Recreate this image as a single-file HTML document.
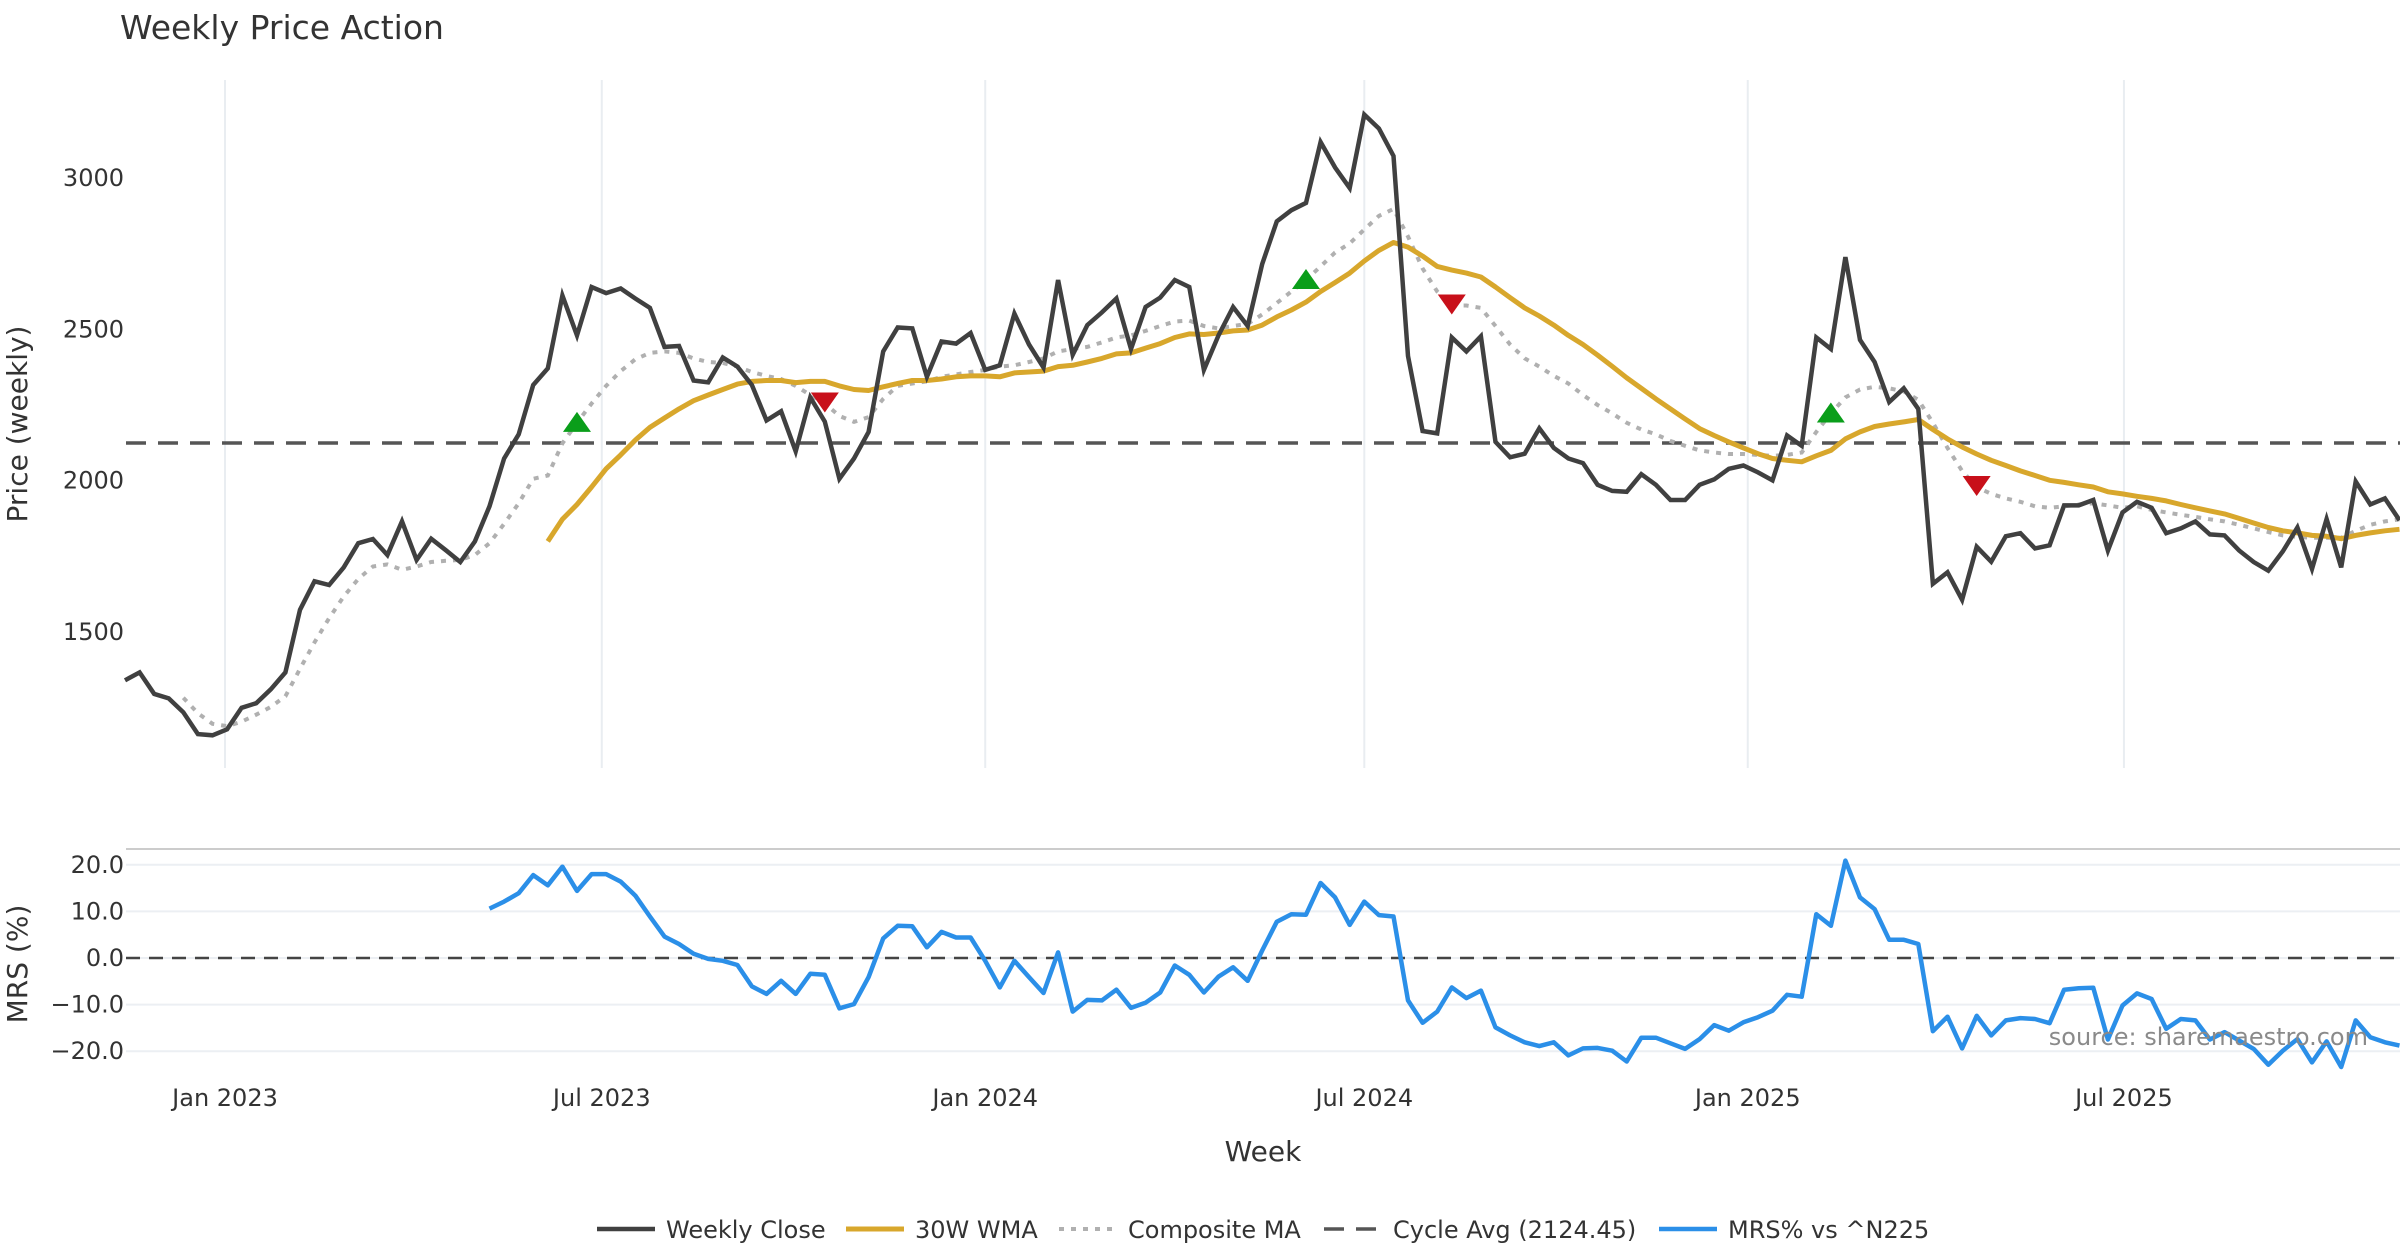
<!DOCTYPE html>
<html><head><meta charset="utf-8"><style>
html,body{margin:0;padding:0;background:#fff;}
svg{display:block;font-family:"DejaVu Sans","Liberation Sans",sans-serif;}
</style></head><body>
<svg id="chart" width="2400" height="1260" viewBox="0 0 2400 1260" xmlns="http://www.w3.org/2000/svg">
<text x="120" y="39" font-size="33" fill="#333">Weekly Price Action</text>
<g id="grid"></g>
<g id="main"></g>
<g id="mrs"></g>
<g id="axes"></g>
<text transform="translate(27,424) rotate(-90)" text-anchor="middle" font-size="28" fill="#333">Price (weekly)</text>
<text transform="translate(27,964) rotate(-90)" text-anchor="middle" font-size="28" fill="#333">MRS (%)</text>
<text x="1263" y="1161" text-anchor="middle" font-size="28" fill="#333">Week</text>
<text x="2368" y="1045" text-anchor="end" font-size="24" fill="#8a8a8a">source: sharemaestro.com</text>
<g id="legend"></g>
</svg>
<script>
const closeVals=[1340,1366,1295,1280,1234,1162,1158,1178,1249,1264,1310,1366,1573,1667,1655,1713,1793,1807,1754,1865,1738,1808,1770,1731,1799,1915,2073,2153,2316,2371,2612,2480,2640,2620,2635,2602,2571,2442,2445,2331,2325,2407,2377,2316,2199,2229,2097,2275,2195,2006,2073,2161,2427,2506,2503,2343,2460,2453,2488,2366,2381,2552,2450,2374,2663,2416,2514,2556,2602,2435,2574,2605,2663,2640,2366,2480,2574,2511,2716,2857,2894,2918,3119,3035,2967,3210,3164,3073,2412,2164,2156,2473,2427,2477,2128,2077,2089,2173,2108,2073,2058,1986,1966,1963,2021,1986,1936,1936,1986,2004,2039,2050,2027,2001,2149,2115,2473,2435,2739,2465,2392,2260,2305,2237,1659,1697,1606,1781,1732,1816,1826,1776,1786,1918,1918,1936,1769,1895,1930,1910,1826,1842,1865,1822,1819,1769,1731,1702,1766,1845,1708,1873,1713,1997,1921,1941,1869];
const wmaStart=29;
const wmaVals=[1799,1872,1921,1979,2039,2085,2134,2176,2207,2237,2264,2283,2301,2319,2328,2331,2331,2324,2328,2328,2313,2301,2298,2310,2321,2331,2331,2336,2343,2346,2346,2343,2356,2359,2362,2377,2381,2392,2404,2419,2422,2438,2453,2473,2485,2483,2488,2495,2498,2514,2541,2564,2590,2625,2655,2686,2726,2761,2787,2772,2742,2708,2696,2686,2673,2640,2605,2571,2544,2514,2480,2450,2415,2378,2340,2305,2270,2237,2204,2172,2149,2128,2108,2089,2073,2067,2062,2082,2100,2138,2161,2179,2187,2194,2202,2169,2138,2111,2088,2067,2050,2032,2017,2001,1994,1986,1979,1963,1956,1948,1941,1933,1921,1910,1900,1890,1875,1860,1845,1834,1827,1819,1816,1808,1819,1827,1834,1839];
const compStart=4;
const compVals=[1282,1231,1196,1188,1203,1226,1252,1287,1378,1465,1545,1617,1675,1716,1723,1705,1716,1731,1735,1738,1754,1793,1857,1925,2006,2017,2123,2191,2255,2313,2362,2401,2422,2427,2422,2404,2392,2389,2377,2359,2346,2336,2313,2283,2255,2214,2194,2210,2270,2313,2321,2328,2343,2351,2359,2366,2377,2381,2392,2404,2427,2435,2442,2457,2473,2480,2495,2511,2526,2529,2511,2503,2511,2518,2549,2587,2625,2663,2708,2754,2784,2830,2875,2898,2807,2701,2625,2579,2579,2571,2511,2450,2404,2377,2346,2321,2283,2250,2222,2191,2169,2153,2131,2115,2100,2093,2088,2088,2085,2082,2085,2093,2161,2222,2275,2301,2310,2305,2295,2267,2191,2108,2032,1979,1956,1941,1930,1915,1910,1915,1921,1925,1918,1910,1915,1903,1895,1887,1880,1872,1865,1854,1842,1830,1819,1814,1811,1811,1811,1834,1854,1865,1872];
const mrsStart=25;
const mrsVals=[10.6,12.1,13.9,17.8,15.6,19.6,14.4,18,18,16.4,13.4,8.9,4.6,3.0,0.9,-0.2,-0.6,-1.5,-6.1,-7.7,-4.9,-7.7,-3.4,-3.6,-10.8,-9.9,-4.1,4.2,6.9,6.8,2.3,5.6,4.4,4.4,-0.6,-6.3,-0.6,-4.1,-7.5,1.2,-11.5,-9.0,-9.1,-6.8,-10.7,-9.6,-7.4,-1.6,-3.6,-7.4,-4.0,-2.0,-4.9,1.6,7.8,9.4,9.3,16.1,13,7.1,12.1,9.2,8.9,-9.1,-13.9,-11.5,-6.3,-8.6,-7.0,-14.9,-16.6,-18.1,-18.9,-18.1,-20.9,-19.4,-19.3,-19.9,-22.2,-17.1,-17.1,-18.3,-19.5,-17.4,-14.4,-15.6,-13.8,-12.7,-11.3,-7.9,-8.3,9.4,6.9,20.9,13,10.5,3.9,3.9,3.0,-15.7,-12.6,-19.4,-12.4,-16.6,-13.4,-12.9,-13.1,-14,-6.8,-6.5,-6.4,-17.5,-10.2,-7.6,-8.8,-15.2,-13.1,-13.4,-17.5,-15.9,-17.7,-19.5,-22.9,-19.9,-17.4,-22.4,-17.9,-23.4,-13.4,-17.0,-18.1,-18.8];
const buyWeeks=[31,81,117];
const sellWeeks=[48,91,127];
const cycleAvg=2124.45;
const priceTicks=[1500,2000,2500,3000];
const mrsTicks=[-20,-10,0,10,20];
const dateTickLabels=["Jan 2023","Jul 2023","Jan 2024","Jul 2024","Jan 2025","Jul 2025"];
const dateTickWeeks=[6.86,32.7,59,85,111.3,137.1];

const NS="http://www.w3.org/2000/svg";
const X0=125, DX=14.58;
const xS=i=>X0+i*DX;
const yP=v=>480.6-(v-2000)*0.3025;
const yM=v=>958-v*4.66;
function mk(tag,attrs,parent){const e=document.createElementNS(NS,tag);for(const k in attrs)e.setAttribute(k,attrs[k]);parent.appendChild(e);return e;}
const grid=document.getElementById('grid'),main=document.getElementById('main'),mrs=document.getElementById('mrs'),axes=document.getElementById('axes'),legend=document.getElementById('legend');

dateTickWeeks.forEach((w,k)=>{
  const x=xS(w);
  let g=mk('line',{x1:x,x2:x,y1:80,y2:768,stroke:'#e9edf1','stroke-width':2},grid);
  
  
  let t=mk('text',{x:x,y:1106,'text-anchor':'middle','font-size':24,fill:'#333'},axes);
  t.textContent=dateTickLabels[k];
  
  
});
priceTicks.forEach(v=>{
  let t=mk('text',{x:124,y:yP(v)+8,'text-anchor':'end','font-size':24,fill:'#333'},axes);
  t.textContent=v;
  
  
});
let sep=mk('line',{x1:126,x2:2400,y1:849,y2:849,stroke:'#cccccc','stroke-width':2},mrs);


mrsTicks.forEach(v=>{
  let g=mk('line',{x1:126,x2:2400,y1:yM(v),y2:yM(v),stroke:'#eceff3','stroke-width':2},mrs);
  
  
  let t=mk('text',{x:124,y:yM(v)+8,'text-anchor':'end','font-size':24,fill:'#333'},axes);
  t.textContent=(v<0?'\u2212':'')+Math.abs(v).toFixed(1);
  
  
});
let z=mk('line',{x1:126,x2:2400,y1:yM(0),y2:yM(0),stroke:'#444','stroke-width':2.5,'stroke-dasharray':'14,9'},mrs);



function pts(arr,start,ys){return arr.map((v,k)=>xS(start+k).toFixed(1)+','+ys(v).toFixed(1)).join(' ');}
let ca=mk('line',{x1:126,x2:2400,y1:yP(cycleAvg),y2:yP(cycleAvg),stroke:'#555','stroke-width':3.5,'stroke-dasharray':'20,12'},main);


let cp=mk('polyline',{points:pts(compVals,compStart,yP),fill:'none',stroke:'#b0b0b0','stroke-width':4,'stroke-dasharray':'5,7'},main);


let wm=mk('polyline',{points:pts(wmaVals,wmaStart,yP),fill:'none',stroke:'#d8a72c','stroke-width':5,'stroke-linejoin':'round'},main);


let cl=mk('polyline',{points:pts(closeVals,0,yP),fill:'none',stroke:'#404040','stroke-width':4.5,'stroke-linejoin':'miter'},main);


buyWeeks.forEach(w=>{
  const x=xS(w),y=yP(compVals[w-compStart]);
  let m=mk('polygon',{points:`${x-14},${y+9} ${x+14},${y+9} ${x},${y-11}`,fill:'#0a9e1a'},main);
  
  
});
sellWeeks.forEach(w=>{
  const x=xS(w),y=yP(compVals[w-compStart]);
  let m=mk('polygon',{points:`${x-14},${y-11} ${x+14},${y-11} ${x},${y+9}`,fill:'#c8101a'},main);
  
  
});
let ml=mk('polyline',{points:pts(mrsVals,mrsStart,yM),fill:'none',stroke:'#2b8fe8','stroke-width':4.5,'stroke-linejoin':'round'},mrs);



const legItems=[
 {x:597,label:'Weekly Close',stroke:'#404040',dash:'',w:4.5},
 {x:846,label:'30W WMA',stroke:'#d8a72c',dash:'',w:5},
 {x:1059,label:'Composite MA',stroke:'#b0b0b0',dash:'5,7',w:4},
 {x:1324,label:'Cycle Avg (2124.45)',stroke:'#555',dash:'20,12',w:3.5},
 {x:1659,label:'MRS% vs ^N225',stroke:'#2b8fe8',dash:'',w:4.5}];
legItems.forEach(it=>{
  const g=mk('g',{},legend);
  
  
  mk('line',{x1:it.x,x2:it.x+58,y1:1229,y2:1229,stroke:it.stroke,'stroke-width':it.w,'stroke-dasharray':it.dash},g);
  const t=mk('text',{x:it.x+69,y:1238,'font-size':24,fill:'#333'},g);
  t.textContent=it.label;
});
</script>
</body></html>
